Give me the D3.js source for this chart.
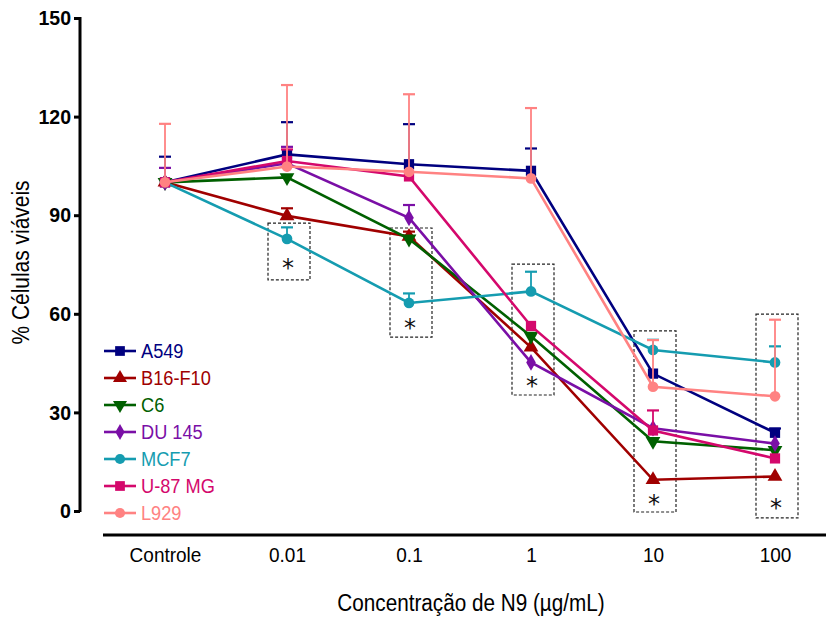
<!DOCTYPE html>
<html>
<head>
<meta charset="utf-8">
<script src="https://cdn.jsdelivr.net/npm/d3@7"></script>
<style>
  html, body { margin: 0; padding: 0; background: #fff; }
  svg { display: block; }
  text { font-family: "Liberation Sans", Arial, sans-serif; }
</style>
</head>
<body>
<svg id="chart" width="826" height="619"></svg>
<script>
// Concentrations tested (x categories)
const categories = ["Controle", "0.01", "0.1", "1", "10", "100"];

// Cell lines, in drawing order
const seriesNames = ["A549", "B16-F10", "C6", "DU 145", "MCF7", "U-87 MG", "L929"];
const seriesColors = ["#00007f", "#a00000", "#006000", "#7a0fa6", "#159cb0", "#d4086c", "#ff8282"];
const seriesShapes = ["square", "triangleUp", "triangleDown", "diamond", "circle", "square", "circle"];

// Mean viability (%) per concentration
const valA549  = [100, 108.5, 105.5, 103.5, 41.8, 23.8];
const valB16   = [100, 89.8, 83.5, 49.8, 9.5, 10.5];
const valC6    = [100, 101.5, 82.8, 53.2, 21.2, 18.5];
const valDU145 = [100, 105.8, 89.2, 45.2, 25.2, 20.5];
const valMCF7  = [100, 82.8, 63.3, 66.8, 49.0, 45.2];
const valU87   = [100, 106.5, 101.8, 56.3, 24.5, 16.0];
const valL929  = [100, 104.8, 103.2, 101.2, 37.8, 34.9];

// Standard deviation (upper bar only)
const errA549  = [7.8, 9.8, 12.2, 6.8, 0, 1.3];
const errB16   = [0, 2.3, 1.5, 0, 0, 0];
const errC6    = [0, 0, 0, 0, 0, 0];
const errDU145 = [4.4, 5.0, 3.9, 0, 0, 0];
const errMCF7  = [0, 3.5, 2.9, 6.0, 3.1, 4.9];
const errU87   = [0, 3.5, 0, 0, 6.1, 0];
const errL929  = [17.8, 24.8, 23.6, 21.4, 14.2, 23.3];

const seriesValues = [valA549, valB16, valC6, valDU145, valMCF7, valU87, valL929];
const seriesErrors = [errA549, errB16, errC6, errDU145, errMCF7, errU87, errL929];

// Y axis ticks
const yTicks = [0, 30, 60, 90, 120, 150];

// Significance boxes: category and viability range enclosed
const sigCategories = ["0.01", "0.1", "1", "10", "100"];
const sigTop    = [87.6, 86.1, 75.1, 54.8, 59.9];
const sigBottom = [70.3, 52.9, 35.3, -0.3, -2.1];
const sigStarAt = [74.5, 56.3, 38.6, 2.7, 1.5];

const svg = d3.select("#chart");

// Narrow the glyphs horizontally to give a condensed typeface look
function condense(sel, f) {
  sel.each(function () {
    const w = this.getComputedTextLength();
    this.setAttribute("textLength", (w * f).toFixed(1));
    this.setAttribute("lengthAdjust", "spacingAndGlyphs");
  });
}

const x = d3.scalePoint().domain(categories).range([165, 775]);
const y = d3.scaleLinear().domain([0, 150]).range([511, 18]);

// Y axis
const yAxis = svg.append("g")
  .attr("transform", "translate(80,0)")
  .call(d3.axisLeft(y).tickValues(yTicks).tickSize(6).tickPadding(3).tickFormat(d3.format("d")));
yAxis.select(".domain").attr("stroke", "#000").attr("stroke-width", 3)
  .attr("d", `M0,${y(150) - 1}V${y(0) + 1}`);
yAxis.selectAll(".tick line").attr("stroke", "#000").attr("stroke-width", 3);
yAxis.selectAll(".tick text")
  .attr("fill", "#000")
  .style("font-size", "21px")
  .style("font-weight", "bold")
  .call(condense, 0.93);

// X axis (category labels only)
const xAxis = svg.append("g")
  .attr("transform", "translate(0,535)")
  .call(d3.axisBottom(x).tickSize(0).tickPadding(13));
xAxis.select(".domain").attr("stroke", "#000").attr("stroke-width", 3)
  .attr("d", "M103,0H826");
xAxis.selectAll(".tick text")
  .attr("fill", "#000")
  .style("font-size", "20px")
  .call(condense, 0.95);

// Axis titles
svg.append("text")
  .attr("transform", `translate(29,${(y(0) + y(150)) / 2 - 2}) rotate(-90)`)
  .attr("text-anchor", "middle")
  .style("font-size", "23px")
  .text("% Células viáveis")
  .call(condense, 0.91);

svg.append("text")
  .attr("x", 471).attr("y", 611)
  .attr("text-anchor", "middle")
  .style("font-size", "23px")
  .text("Concentração de N9 (µg/mL)")
  .call(condense, 0.9);

// Significance boxes and stars
const boxHalf = 21;
sigCategories.forEach((c, i) => {
  svg.append("rect")
    .attr("x", x(c) - boxHalf + 2)
    .attr("y", y(sigTop[i]))
    .attr("width", boxHalf * 2)
    .attr("height", y(sigBottom[i]) - y(sigTop[i]))
    .attr("fill", "none")
    .attr("stroke", "#222")
    .attr("stroke-width", 1.2)
    .attr("stroke-dasharray", "3,2");
  svg.append("text")
    .attr("x", x(c) + 1)
    .attr("y", y(sigStarAt[i]) + 10)
    .attr("text-anchor", "middle")
    .style("font-size", "24px")
    .style("font-family", "DejaVu Sans, sans-serif")
    .attr("fill", "#111")
    .text("*");
});

// Marker drawing helper
function marker(g, shape, color, cx, cy, scale) {
  const s = scale || 1;
  let sym;
  if (shape === "square") sym = d3.symbol(d3.symbolSquare, 105 * s * s);
  else if (shape === "circle") sym = d3.symbol(d3.symbolCircle, 90 * s * s);
  else if (shape === "diamond") sym = d3.symbol(d3.symbolDiamond, 80 * s * s);
  else sym = d3.symbol(d3.symbolTriangle, 95 * s * s);
  let rot = "";
  if (shape === "triangleDown") rot = " rotate(180)";
  g.append("path")
    .attr("d", sym())
    .attr("transform", `translate(${cx},${cy})${rot}`)
    .attr("fill", color);
}

const line = d3.line()
  .x((d, i) => x(categories[i]))
  .y(d => y(d));

const capHalf = 6;
seriesNames.forEach((name, si) => {
  const g = svg.append("g");
  const color = seriesColors[si];
  const vals = seriesValues[si];
  const errs = seriesErrors[si];

  // upper error bars
  vals.forEach((v, i) => {
    if (errs[i] <= 0) return;
    const cx = x(categories[i]);
    g.append("line")
      .attr("x1", cx).attr("x2", cx)
      .attr("y1", y(v)).attr("y2", y(v + errs[i]))
      .attr("stroke", color).attr("stroke-width", 1.8);
    g.append("line")
      .attr("x1", cx - capHalf).attr("x2", cx + capHalf)
      .attr("y1", y(v + errs[i])).attr("y2", y(v + errs[i]))
      .attr("stroke", color).attr("stroke-width", 2.2);
  });

  g.append("path")
    .datum(vals)
    .attr("d", line)
    .attr("fill", "none")
    .attr("stroke", color)
    .attr("stroke-width", 2.6);

  vals.forEach((v, i) => marker(g, seriesShapes[si], color, x(categories[i]), y(v)));
});

// Legend
const legend = svg.append("g");
seriesNames.forEach((name, i) => {
  const ly = 351 + i * 27;
  const color = seriesColors[i];
  legend.append("line")
    .attr("x1", 104).attr("x2", 136)
    .attr("y1", ly).attr("y2", ly)
    .attr("stroke", color).attr("stroke-width", 2.6);
  marker(legend, seriesShapes[i], color, 120, ly, 0.95);
  legend.append("text")
    .attr("x", 141).attr("y", ly + 7)
    .attr("fill", color)
    .style("font-size", "20px")
    .text(name)
    .call(condense, 0.91);
});
</script>
</body>
</html>
